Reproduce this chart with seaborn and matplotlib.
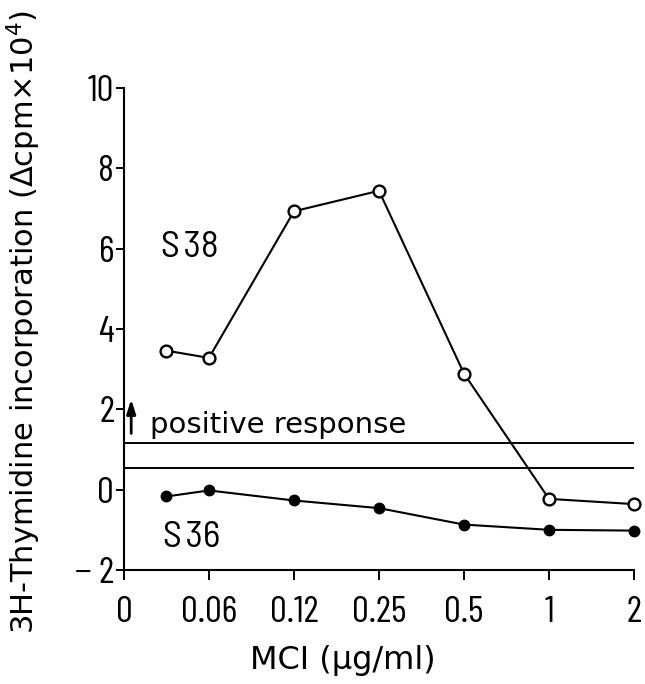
import matplotlib
matplotlib.use("Agg")
import matplotlib.pyplot as plt
from matplotlib import font_manager
import seaborn as sns
import pandas as pd

# ---- data ----
tick_labels = ["0", "0.06", "0.12", "0.25", "0.5", "1", "2"]
dose_pos = [0.5, 1, 2, 3, 4, 5, 6]          # category positions of the measured doses
s38 = [3.46, 3.28, 6.93, 7.44, 2.89, -0.23, -0.36]
s36 = [-0.17, -0.02, -0.27, -0.46, -0.87, -1.0, -1.02]
threshold_upper = 1.16
threshold_lower = 0.54

sns.set_theme(style="ticks")
names = {f.name for f in font_manager.fontManager.ttflist}
narrow = "Barlow Condensed" if "Barlow Condensed" in names else "DejaVu Sans"
semi = "Barlow Semi Condensed" if "Barlow Semi Condensed" in names else "DejaVu Sans"
plt.rcParams['font.family'] = ["DejaVu Sans"]
plt.rcParams['text.color'] = "black"
plt.rcParams['axes.labelcolor'] = "black"

df = pd.concat([
    pd.DataFrame({"pos": dose_pos, "val": s38, "series": "S38"}),
    pd.DataFrame({"pos": dose_pos, "val": s36, "series": "S36"}),
])

fig = plt.figure(figsize=(6.45, 6.84), dpi=100)
ax = fig.add_axes([0.1922, 0.1667, 0.7907, 0.7047])

sns.lineplot(data=df[df.series == "S38"], x="pos", y="val", ax=ax, color="black",
             lw=1.5, marker="o", markersize=8.5, markerfacecolor="white",
             markeredgecolor="black", markeredgewidth=1.7, clip_on=False, legend=False)
sns.lineplot(data=df[df.series == "S36"], x="pos", y="val", ax=ax, color="black",
             lw=1.5, marker="o", markersize=7.5, markerfacecolor="black",
             markeredgecolor="black", markeredgewidth=1.0, clip_on=False, legend=False)

ax.axhline(threshold_upper, color="black", lw=1.4)
ax.axhline(threshold_lower, color="black", lw=1.4)

ax.set_xlim(0, 6)
ax.set_ylim(-2, 10)
ax.set_xticks(range(len(tick_labels)))
ax.set_xticklabels(tick_labels, family=[narrow, "DejaVu Sans"], fontsize=27)
ax.set_yticks([-2, 0, 2, 4, 6, 8, 10])
ax.set_yticklabels(["\u2212 2", "0", "2", "4", "6", "8", "10"], family=[narrow, "DejaVu Sans"], fontsize=27)
ax.tick_params(axis="both", colors="black", width=1.4, length=7, direction="out")
ax.tick_params(axis="x", pad=12)
ax.tick_params(axis="y", pad=1, length=6)
for s in ["left", "bottom"]:
    ax.spines[s].set_linewidth(1.5)
    ax.spines[s].set_color("black")
sns.despine(ax=ax)

ax.set_xlabel("MCI (\u00b5g/ml)", fontsize=23, color="black")
ax.xaxis.set_label_coords(0.43, -0.155)
ax.set_ylabel("3H-Thymidine incorporation (\u0394cpm\u00d710$^{4}$)", fontsize=22, color="black")
ax.yaxis.set_label_coords(-0.158, 0.515)

ax.text(0.43, 5.78, "S\u200a38", fontsize=27, va="baseline", ha="left", family=[semi, "DejaVu Sans"])
ax.text(0.46, -1.43, "S\u200a36", fontsize=27, va="baseline", ha="left", family=[semi, "DejaVu Sans"])
ax.annotate("", xy=(0.085, 2.32), xytext=(0.085, 1.33),
            arrowprops=dict(arrowstyle="-|>,head_length=0.7,head_width=0.22", color="black", lw=2.0))
ax.text(0.31, 1.4, "positive response", fontsize=21, va="baseline", ha="left")

fig.savefig("out.png", dpi=100, facecolor="white")
